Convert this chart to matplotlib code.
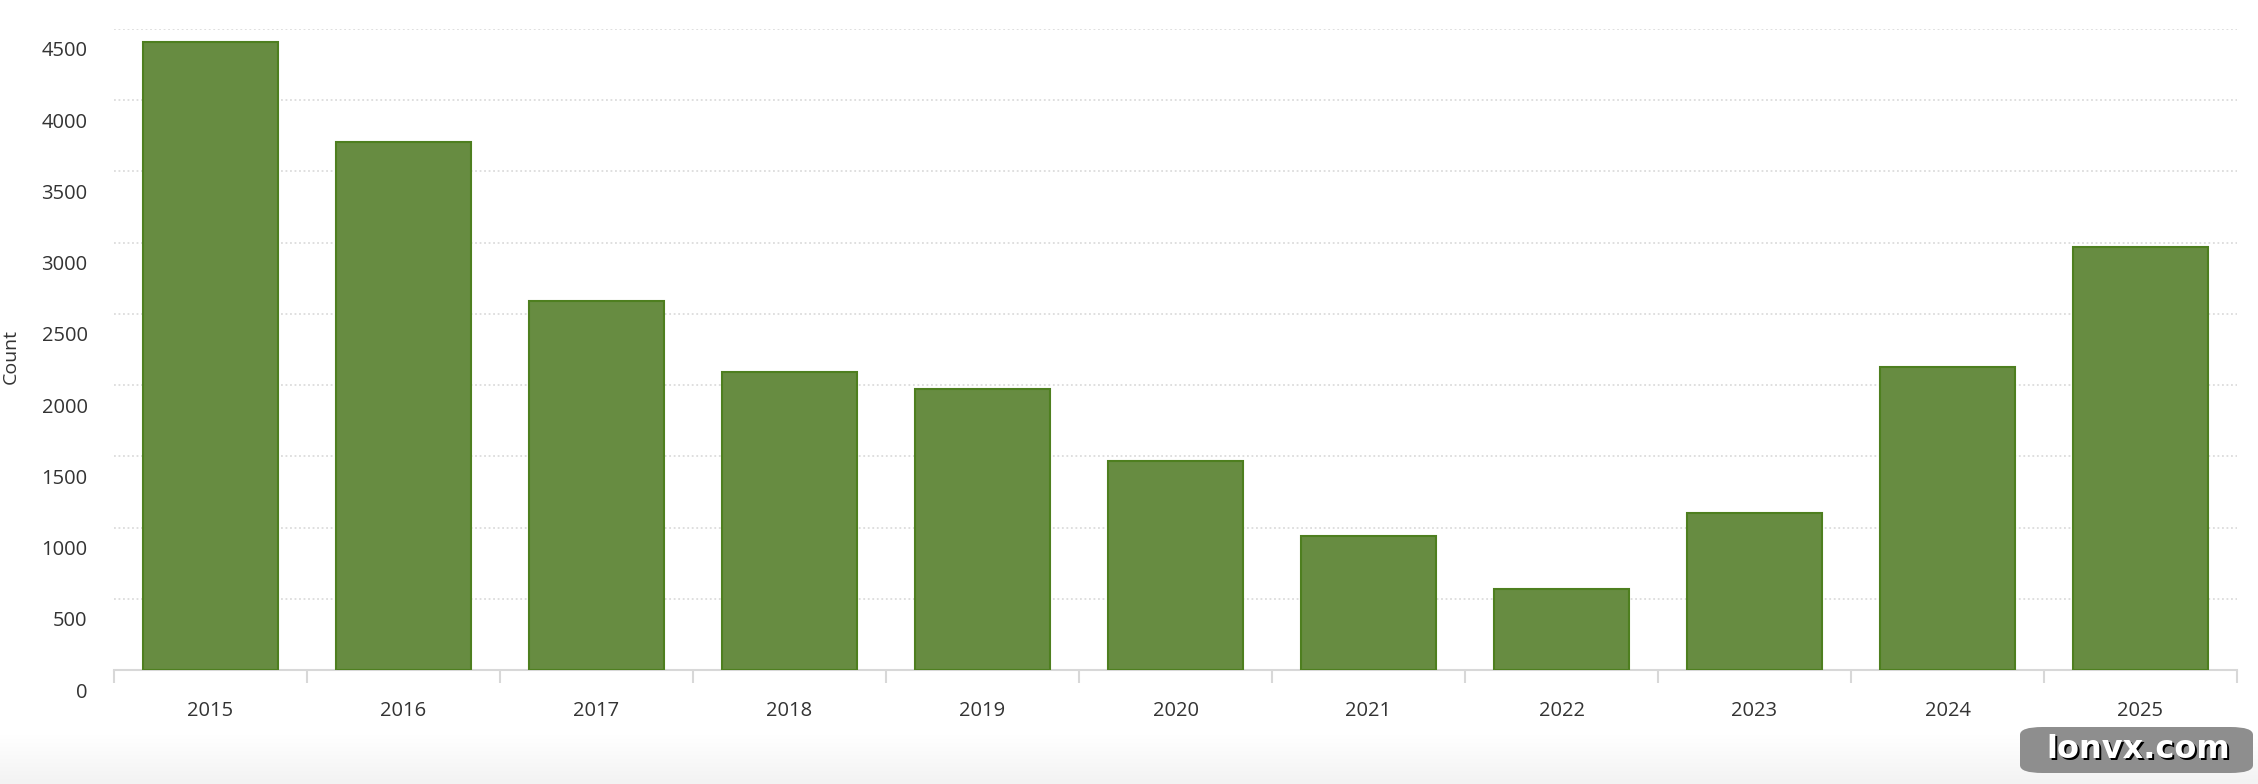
import matplotlib
matplotlib.use("Agg")
import matplotlib.pyplot as plt
import matplotlib.transforms as mtransforms
from matplotlib.patches import FancyBboxPatch
import numpy as np

years = ["2015", "2016", "2017", "2018", "2019", "2020", "2021", "2022", "2023", "2024", "2025"]
counts = [4409, 3709, 2593, 2092, 1973, 1467, 938, 571, 1105, 2127, 2972]
yticks = [0, 500, 1000, 1500, 2000, 2500, 3000, 3500, 4000, 4500]

plt.rcParams['font.family'] = ['Open Sans', 'DejaVu Sans']

W, H = 2258, 784
fig = plt.figure(figsize=(W / 100, H / 100), dpi=100)
fig.patch.set_facecolor('white')

# faint bottom gradient band
gax = fig.add_axes([0, 0, 1, 50 / H])
grad = np.linspace(0, 1, 50).reshape(-1, 1)
gax.imshow(grad, aspect='auto', cmap=matplotlib.colors.LinearSegmentedColormap.from_list(
    'g', ['#f3f3f3', '#ffffff']), origin='lower', extent=[0, 1, 0, 1])
gax.axis('off')

ax = fig.add_axes([114 / W, 1 - 670 / H, (2237 - 114) / W, (670 - 29) / H])
x = np.arange(len(years))
ax.bar(x, counts, width=0.70, color='#678c41', edgecolor='#4e7f1f', linewidth=1.5, zorder=3)

ax.set_xlim(-0.5, len(years) - 0.5)
ax.set_ylim(0, 4500)
ax.set_yticks(yticks)
ax.set_yticklabels([str(v) for v in yticks])
ax.yaxis.grid(True, color='#dcdcdc', linestyle=(0, (1, 1.5)), linewidth=1.3, zorder=0)
ax.set_axisbelow(True)
ax.tick_params(axis='y', length=0, pad=19, labelsize=14.5, labelcolor='#333333')

offset = mtransforms.ScaledTranslation(0, -20 / 100, fig.dpi_scale_trans)
for lab in ax.get_yticklabels():
    lab.set_transform(lab.get_transform() + offset)

ax.set_xticks(x)
ax.set_xticklabels(years)
ax.set_xticks(np.arange(-0.5, len(years)), minor=True)
ax.tick_params(axis='x', which='major', length=0, pad=22, labelsize=14.5, labelcolor='#333333')
ax.tick_params(axis='x', which='minor', length=9, width=1.5, color='#d8d8d8')

for s in ['top', 'right', 'left']:
    ax.spines[s].set_visible(False)
ax.spines['bottom'].set_color('#d8d8d8')
ax.spines['bottom'].set_linewidth(1.5)

fig.text(11 / W, 1 - 357 / H, 'Count', rotation=90, ha='center', va='center',
         fontsize=14, color='#333333')

# watermark
box = FancyBboxPatch((2020 / W, 1 - 773 / H), (2253 - 2020) / W, (773 - 727) / H,
                     boxstyle='round,pad=0,rounding_size=0.01', transform=fig.transFigure,
                     facecolor='#8e8e8e', edgecolor='none', zorder=10)
fig.patches.append(box)
cx, cy = 2138 / W, 1 - 749 / H
fig.text(cx + 2 / W, cy - 2 / H, 'lonvx.com', ha='center', va='center', fontsize=23,
         fontweight='bold', color='black', family='DejaVu Sans', zorder=11)
fig.text(cx, cy, 'lonvx.com', ha='center', va='center', fontsize=23,
         fontweight='bold', color='white', family='DejaVu Sans', zorder=12)

fig.savefig('out.png', dpi=100)
